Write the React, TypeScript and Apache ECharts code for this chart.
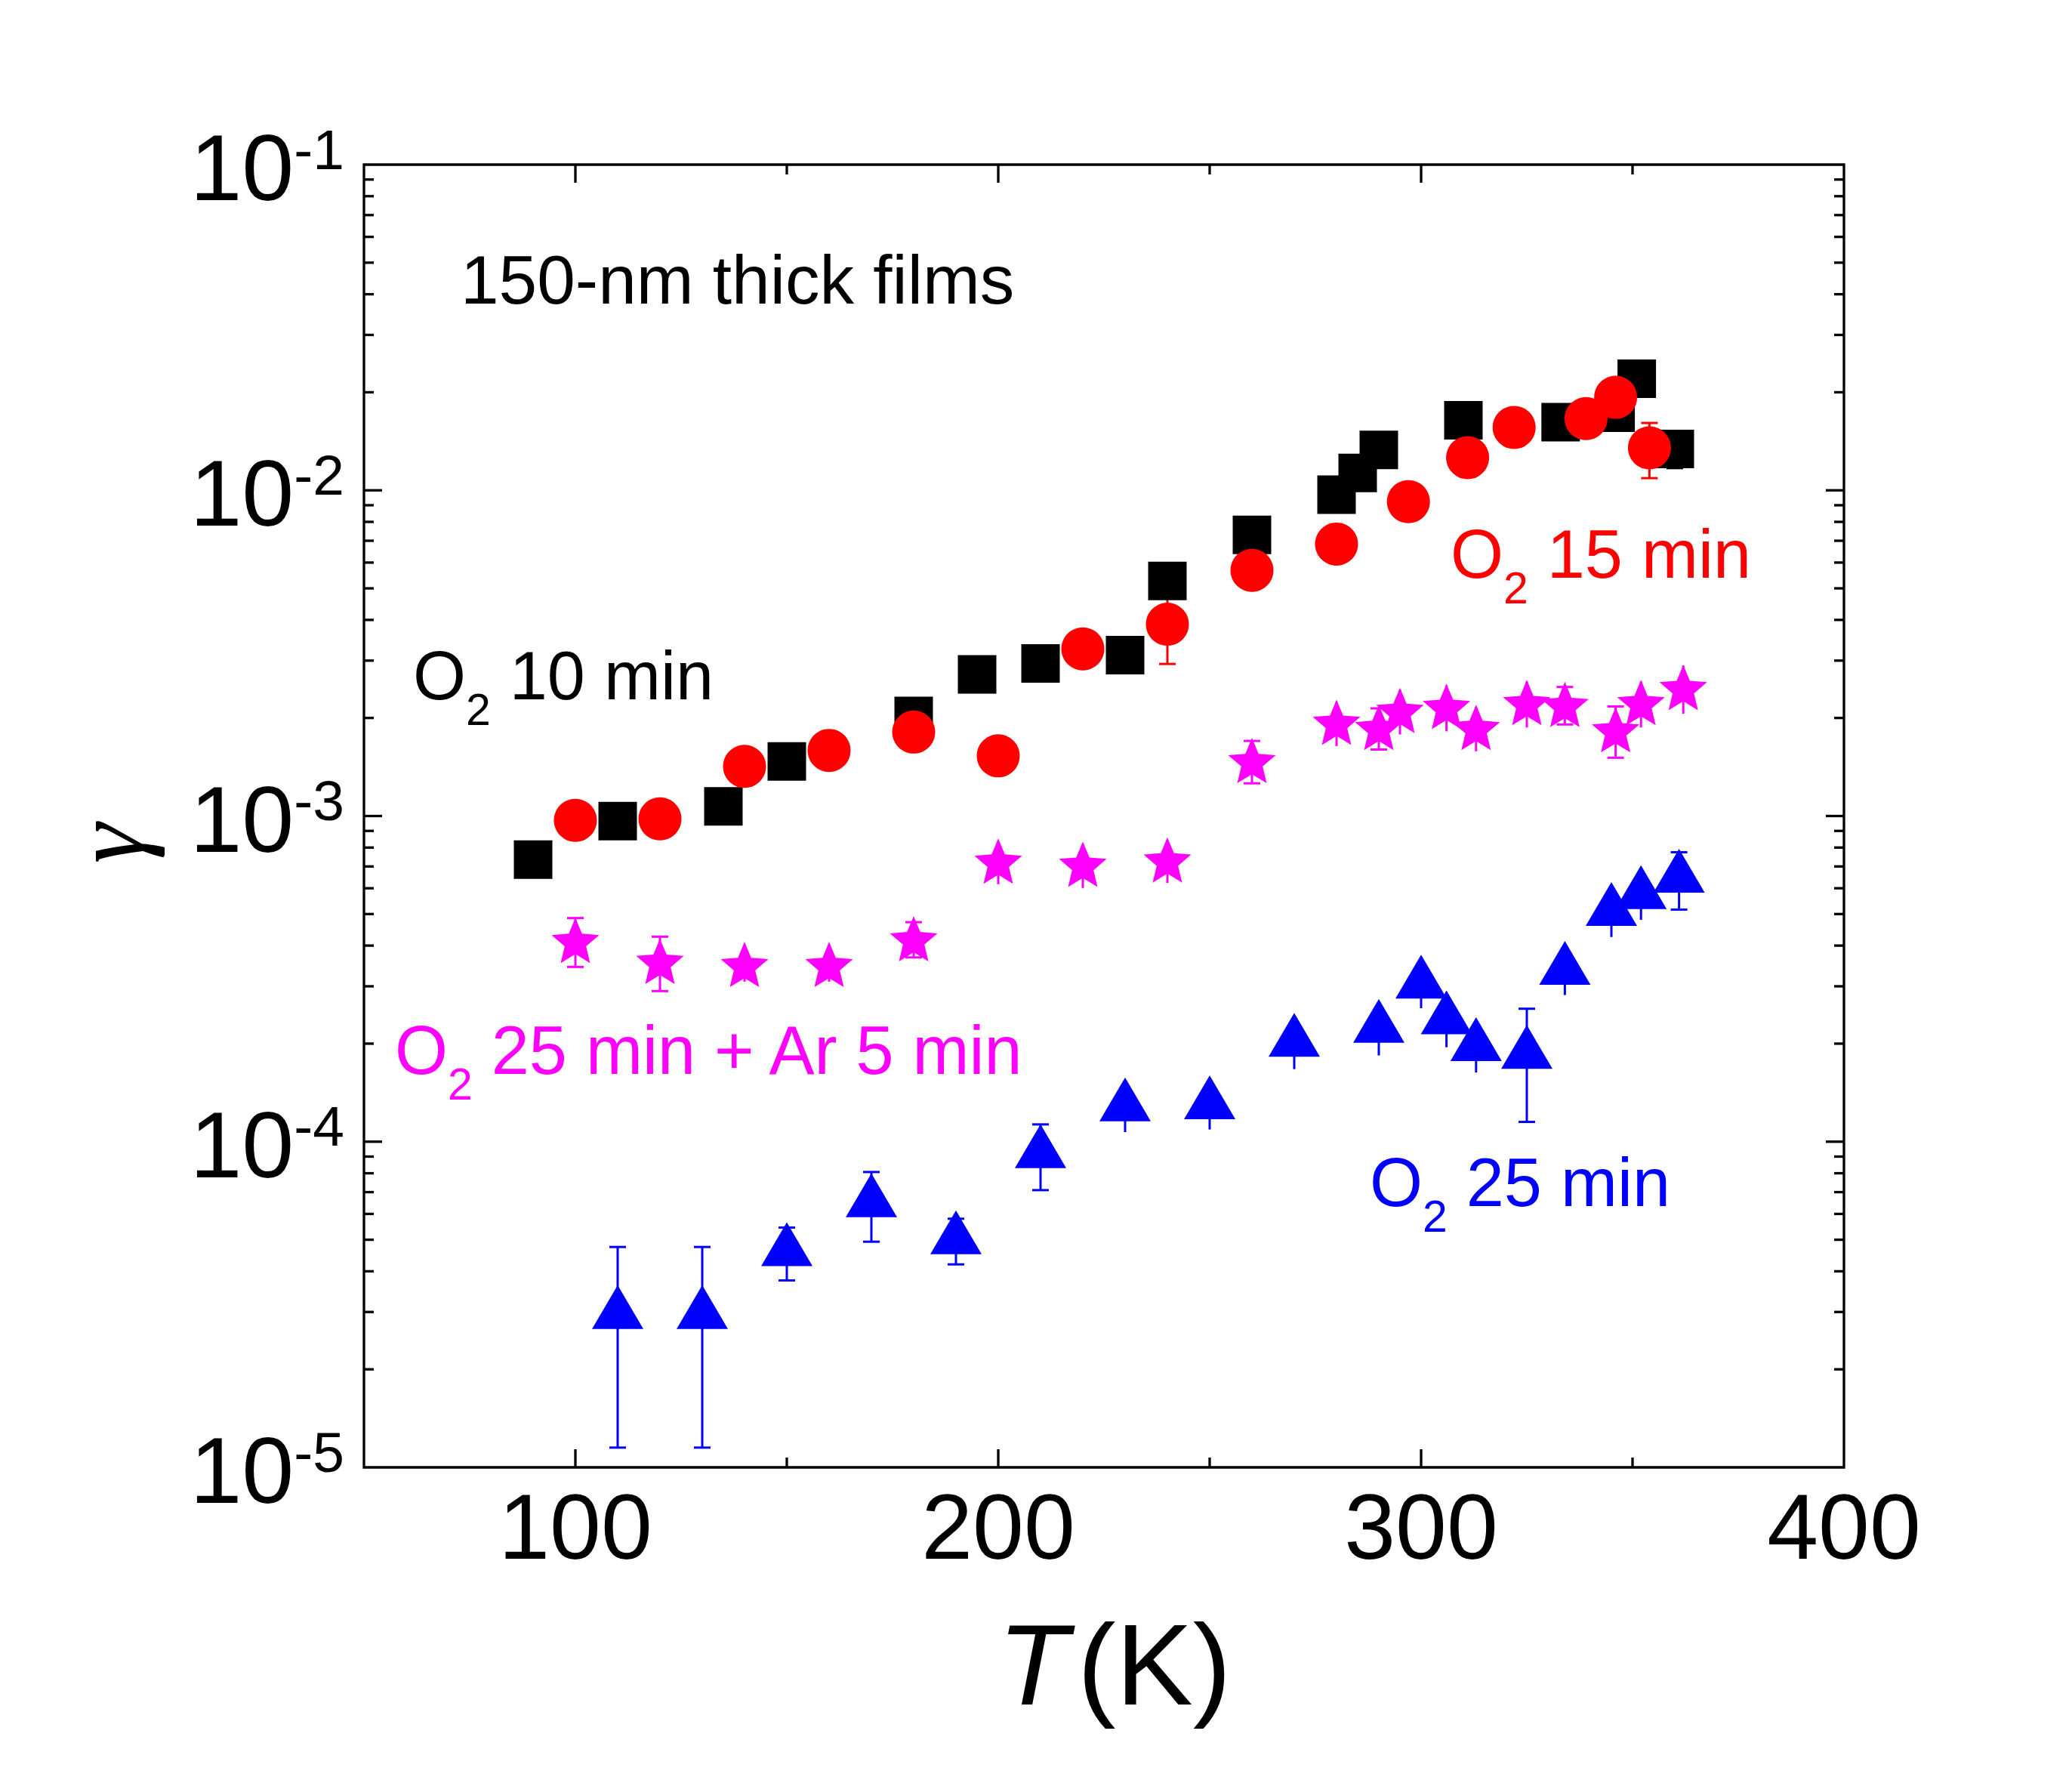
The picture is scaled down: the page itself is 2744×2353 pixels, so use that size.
import React, { useEffect, useRef } from "react";
import * as echarts from "echarts";

const W = 2744;
const H = 2353;

// ---------- data ----------
// O2 10 min (black squares)
const blackT = [90, 110, 135, 150, 180, 195, 210, 230, 240, 260, 280, 285, 290, 310, 333, 346, 351, 360];
const blackG = [7.35e-4, 9.65e-4, 1.07e-3, 1.47e-3, 2.03e-3, 2.72e-3, 2.94e-3, 3.12e-3, 5.27e-3, 7.3e-3, 9.7e-3, 1.13e-2, 1.33e-2, 1.64e-2, 1.62e-2, 1.73e-2, 2.2e-2, 1.34e-2];
const blackE = [0, 0, 0, 0, 0, 0, 0, 0, 0, 0, 0, 0, 0, 0, 0, 0, 0, 1.7e-3];
const blackCap = [1, 1, 1, 1, 1, 1, 1, 1, 1, 1, 1, 1, 1, 1, 1, 1, 1, 1];

// O2 15 min (red circles)
const redT = [100, 120, 140, 160, 180, 200, 220, 240, 260, 280, 297, 311, 322, 339, 346, 354];
const redG = [9.7e-4, 9.8e-4, 1.42e-3, 1.59e-3, 1.81e-3, 1.53e-3, 3.26e-3, 3.88e-3, 5.68e-3, 6.84e-3, 9.23e-3, 1.26e-2, 1.56e-2, 1.66e-2, 1.93e-2, 1.35e-2];
const redE = [0, 0, 0, 0, 0, 0, 0, 0.95e-3, 0, 0, 0, 0, 0, 0, 0, 2.6e-3];
const redCap = [1, 1, 1, 1, 1, 1, 1, 1, 1, 1, 1, 1, 1, 1, 1, 1];

// O2 25 min + Ar 5 min (magenta stars)
const magT = [100, 120, 140, 160, 180, 200, 220, 240, 260, 280, 290, 295, 306, 313, 325, 334, 346, 352, 362];
const magG = [4.15e-4, 3.58e-4, 3.5e-4, 3.5e-4, 4.2e-4, 7.27e-4, 7.11e-4, 7.33e-4, 1.48e-3, 1.94e-3, 1.87e-3, 2.11e-3, 2.17e-3, 1.87e-3, 2.23e-3, 2.2e-3, 1.84e-3, 2.23e-3, 2.48e-3];
const magE = [0.71e-4, 0.68e-4, 0.4e-4, 0.4e-4, 0.52e-4, 1.1e-4, 1.1e-4, 1.1e-4, 0.22e-3, 0.3e-3, 0.27e-3, 0.33e-3, 0.35e-3, 0.29e-3, 0.36e-3, 0.29e-3, 0.33e-3, 0.36e-3, 0.42e-3];
const magCap = [1, 1, 0, 0, 1, 0, 0, 0, 1, 0, 1, 0, 0, 0, 0, 1, 1, 0, 0];

// O2 25 min (blue triangles)
const blueT = [110, 130, 150, 170, 190, 210, 230, 250, 270, 290, 300, 306, 313, 325, 334, 345, 352, 361];
const blueG = [2.95e-5, 2.95e-5, 4.6e-5, 6.5e-5, 5.0e-5, 9.2e-5, 1.28e-4, 1.3e-4, 2.02e-4, 2.23e-4, 3.05e-4, 2.37e-4, 1.96e-4, 1.855e-4, 3.36e-4, 5.1e-4, 5.74e-4, 6.45e-4];
const blueE = [1.8e-5, 1.8e-5, 0.85e-5, 1.57e-5, 0.8e-5, 2.1e-5, 2.1e-5, 2.1e-5, 3.5e-5, 3.9e-5, 4.8e-5, 4.2e-5, 3.3e-5, 7.05e-5, 5.4e-5, 8.5e-5, 9.4e-5, 1.29e-4];
const blueCap = [1, 1, 1, 1, 1, 1, 0, 0, 0, 0, 0, 0, 0, 1, 0, 0, 0, 1];

// axis ticks
const xMajorTicks = [100, 200, 300];
const xMinorTicks = [150, 250, 350];
const yMajorTicks = [1e-4, 1e-3, 1e-2];
const yDecades = [1e-5, 1e-4, 1e-3, 1e-2];
const yMinorMultipliers = [2, 3, 4, 5, 6, 7, 8, 9];

// texts
const xTitleItalic = "T";
const xTitleUnit = "(K)";
const yTitle = "γ";
const noteText = "150-nm thick films";
const label10 = " 10 min";
const label15 = " 15 min";
const label25Ar = " 25 min + Ar 5 min";
const label25 = " 25 min";

// ---------- styles ----------
const FONT = '"Liberation Sans", Arial, Helvetica, sans-serif';
const SERIF = '"Liberation Serif", "Times New Roman", serif';
const BLACK = "#000000";
const RED = "#FF0000";
const MAGENTA = "#FF00FF";
const BLUE = "#0000FF";
const LINE_W = 3.3;

function starPath(): string {
  const R = 100;
  const r = 45;
  const pts: string[] = [];
  for (let k = 0; k < 10; k++) {
    const a = -Math.PI / 2 + (k * Math.PI) / 5;
    const rad = k % 2 === 0 ? R : r;
    pts.push(`${(Math.cos(a) * rad).toFixed(2)},${(Math.sin(a) * rad).toFixed(2)}`);
  }
  return "path://M" + pts.join("L") + "Z";
}

function errRender(color: string) {
  return (params: any, api: any) => {
    const x = api.value(0);
    const y = api.value(1);
    const e = api.value(2);
    const cap = api.value(3);
    if (!e) return { type: "group", children: [] };
    const top = api.coord([x, y + e]);
    const bot = api.coord([x, Math.max(y - e, 1e-7)]);
    const cw = 11;
    const st = { stroke: color, lineWidth: 3 };
    const children: any[] = [
      { type: "line", shape: { x1: top[0], y1: top[1], x2: bot[0], y2: bot[1] }, style: st },
    ];
    if (cap) {
      children.push({ type: "line", shape: { x1: top[0] - cw, y1: top[1], x2: top[0] + cw, y2: top[1] }, style: st });
      children.push({ type: "line", shape: { x1: bot[0] - cw, y1: bot[1], x2: bot[0] + cw, y2: bot[1] }, style: st });
    }
    return { type: "group", children };
  };
}

function tickRender(params: any, api: any) {
  const cs = params.coordSys;
  const x0 = cs.x;
  const y0 = cs.y;
  const x1 = cs.x + cs.width;
  const y1 = cs.y + cs.height;
  const children: any[] = [];
  const st = { stroke: BLACK, lineWidth: LINE_W };
  const ln = (ax: number, ay: number, bx: number, by: number) =>
    children.push({ type: "line", shape: { x1: ax, y1: ay, x2: bx, y2: by }, style: st });
  const MAJ = 24;
  const MIN = 13;
  xMajorTicks.forEach((v) => {
    const px = api.coord([v, 1e-3])[0];
    ln(px, y1, px, y1 - MAJ);
    ln(px, y0, px, y0 + MAJ);
  });
  xMinorTicks.forEach((v) => {
    const px = api.coord([v, 1e-3])[0];
    ln(px, y1, px, y1 - MIN);
    ln(px, y0, px, y0 + MIN);
  });
  yMajorTicks.forEach((v) => {
    const py = api.coord([100, v])[1];
    ln(x0, py, x0 + MAJ, py);
    ln(x1, py, x1 - MAJ, py);
  });
  yDecades.forEach((d) => {
    yMinorMultipliers.forEach((m) => {
      const py = api.coord([100, d * m])[1];
      ln(x0, py, x0 + MIN, py);
      ln(x1, py, x1 - MIN, py);
    });
  });
  return { type: "group", children };
}

function annoRich(color: string) {
  return {
    m: { fontSize: 90, lineHeight: 90, padding: [0, 0, 29, 0], verticalAlign: "top", fontFamily: FONT, fill: color },
    s: { fontSize: 59, lineHeight: 59, padding: [60, 0, 0, 0], verticalAlign: "top", fontFamily: FONT, fill: color },
  };
}

function annotation(x: number, y: number, rest: string, color: string) {
  return {
    type: "text",
    x,
    y,
    silent: true,
    style: {
      text: `{m|O}{s|2}{m|${rest}}`,
      rich: annoRich(color),
      fill: color,
      align: "left",
      verticalAlign: "top",
      fontFamily: FONT,
      fontSize: 90,
    },
  };
}

function buildOption(): any {
  const toData = (t: number[], g: number[], e: number[], c: number[]) => t.map((v, i) => [v, g[i], e[i], c[i]]);
  return {
    animation: false,
    backgroundColor: "#ffffff",
    grid: {
      left: 482,
      right: W - 2442,
      top: 218,
      bottom: H - 1943,
      show: true,
      borderColor: BLACK,
      borderWidth: LINE_W,
      backgroundColor: "transparent",
      containLabel: false,
      outerBoundsMode: "none",
    },
    xAxis: {
      type: "value",
      min: 50,
      max: 400,
      interval: 50,
      axisLine: { show: false },
      axisTick: { show: false },
      splitLine: { show: false },
      axisLabel: {
        formatter: (v: number) => (v % 100 === 0 ? String(v) : ""),
        fontSize: 122,
        fontFamily: FONT,
        color: BLACK,
        margin: 18,
      },
      name: `{i|${xTitleItalic}}{n|${xTitleUnit}}`,
      nameLocation: "middle",
      nameGap: 185,
      nameTextStyle: {
        padding: [0, 0, 0, 28],
        rich: {
          i: { fontSize: 153, lineHeight: 150, fontStyle: "italic", fontFamily: FONT, color: BLACK },
          n: { fontSize: 153, lineHeight: 150, padding: [0, 0, 0, 12], fontFamily: FONT, color: BLACK },
        },
      },
    },
    yAxis: {
      type: "log",
      logBase: 10,
      min: 1e-5,
      max: 1e-1,
      axisLine: { show: false },
      axisTick: { show: false },
      minorTick: { show: false },
      splitLine: { show: false },
      axisLabel: {
        formatter: (v: number) => `{b|10}{s|${Math.round(Math.log10(v))}}`,
        margin: 26,
        padding: [8, 0, 0, 0],
        rich: {
          b: { fontSize: 124, lineHeight: 124, verticalAlign: "bottom", fontFamily: FONT, color: BLACK },
          s: { fontSize: 75, lineHeight: 28, verticalAlign: "top", fontFamily: FONT, color: BLACK },
        },
      },
    },
    graphic: {
      elements: [
        {
          type: "text",
          x: 143,
          y: 1117,
          rotation: Math.PI / 2,
          silent: true,
          style: {
            text: yTitle,
            fontSize: 135,
            fontFamily: SERIF,
            fontStyle: "italic",
            fill: BLACK,
            align: "center",
            verticalAlign: "middle",
          },
        },
        {
          type: "text",
          x: 610,
          y: 370,
          silent: true,
          style: {
            text: noteText,
            fontSize: 91,
            fontFamily: FONT,
            fill: BLACK,
            align: "left",
            verticalAlign: "middle",
          },
        },
        annotation(547, 850, label10, BLACK),
        annotation(1921, 689, label15, RED),
        annotation(523, 1346, label25Ar, MAGENTA),
        annotation(1814, 1521, label25, BLUE),
      ],
    },
    series: [
      {
        type: "custom",
        name: "ticks",
        renderItem: tickRender,
        data: [[100, 1e-3]],
        silent: true,
        clip: false,
        z: 5,
      },
      {
        type: "custom",
        name: "O2 10 min err",
        renderItem: errRender(BLACK),
        data: toData(blackT, blackG, blackE, blackCap),
        encode: { x: 0, y: 1 },
        silent: true,
      },
      {
        type: "scatter",
        name: "O2 10 min",
        data: blackT.map((t, i) => [t, blackG[i]]),
        symbol: "rect",
        symbolSize: 51,
        itemStyle: { color: BLACK, opacity: 1 },
      },
      {
        type: "custom",
        name: "O2 15 min err",
        renderItem: errRender(RED),
        data: toData(redT, redG, redE, redCap),
        encode: { x: 0, y: 1 },
        silent: true,
      },
      {
        type: "scatter",
        name: "O2 15 min",
        data: redT.map((t, i) => [t, redG[i]]),
        symbol: "circle",
        symbolSize: 57,
        itemStyle: { color: RED, opacity: 1 },
      },
      {
        type: "custom",
        name: "O2 25 min + Ar 5 min err",
        renderItem: errRender(MAGENTA),
        data: toData(magT, magG, magE, magCap),
        encode: { x: 0, y: 1 },
        silent: true,
      },
      {
        type: "scatter",
        name: "O2 25 min + Ar 5 min",
        data: magT.map((t, i) => [t, magG[i]]),
        symbol: starPath(),
        symbolSize: [63, 60],
        itemStyle: { color: MAGENTA, opacity: 1 },
      },
      {
        type: "custom",
        name: "O2 25 min err",
        renderItem: errRender(BLUE),
        data: toData(blueT, blueG, blueE, blueCap),
        encode: { x: 0, y: 1 },
        silent: true,
      },
      {
        type: "scatter",
        name: "O2 25 min",
        data: blueT.map((t, i) => [t, blueG[i]]),
        symbol: "triangle",
        symbolSize: [68, 58],
        symbolOffset: [0, -9.7],
        itemStyle: { color: BLUE, opacity: 1 },
      },
    ],
  };
}

export default function App() {
  const ref = useRef<HTMLDivElement>(null);
  useEffect(() => {
    document.body.style.margin = "0";
    const el = ref.current;
    if (!el) return;
    const chart = echarts.init(el, null, { renderer: "svg" });
    chart.setOption(buildOption());
    return () => {
      chart.dispose();
    };
  }, []);
  return <div ref={ref} style={{ width: W, height: H, background: "#ffffff" }} />;
}
